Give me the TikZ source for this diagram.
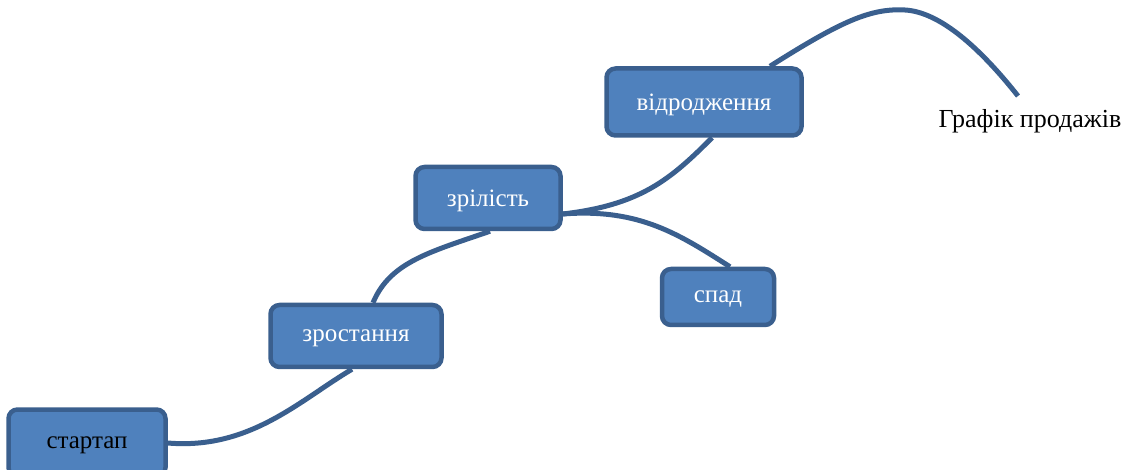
\documentclass[tikz,border=0pt]{standalone}
\usepackage{fontspec}
\setmainfont{Liberation Serif}
\definecolor{boxfill}{HTML}{4F81BD}
\definecolor{boxline}{HTML}{3A5F8E}
\tikzset{
  stage/.style={draw=boxline, fill=boxfill, line width=4.5pt, rounded corners=9pt,
    inner sep=0pt, font=\fontsize{25}{28}\selectfont, text=white, text depth=0pt},
  link/.style={draw=boxline, line width=5pt}
}
\begin{document}
\begin{tikzpicture}[x=1pt,y=-1pt]
\useasboundingbox (0,0) rectangle (1133,470);
\begin{scope}
\clip (0,0) rectangle (1133,470);
\node[stage, minimum width=157pt, minimum height=67pt, text=black] (start) at (87,443) {стартап};
\end{scope}
\node[stage, minimum width=171pt, minimum height=62pt] (grow) at (356,336) {зростання};
\node[stage, minimum width=145pt, minimum height=62pt] (mature) at (488,198) {зрілість};
\node[stage, minimum width=195pt, minimum height=67pt] (reborn) at (704,102) {відродження};
\node[stage, minimum width=112pt, minimum height=56pt] (fall) at (718,297) {спад};
\node[font=\fontsize{26}{29}\selectfont] (label) at (1030,121) {Графік продажів};
\coordinate (peakend) at (1018,96);
\draw[link] (start.east) .. controls (250,450) and (300,400) .. ([xshift=-4pt]grow.south);
\draw[link] ([xshift=17pt]grow.north) .. controls (390,262) and (430,252) .. ([xshift=2pt]mature.south);
\draw[link] ([yshift=-16pt]mature.east) .. controls (640,205) and (670,180) .. ([xshift=8pt]reborn.south);
\draw[link] ([yshift=-16pt]mature.east) .. controls (640,208) and (680,235) .. ([xshift=12pt]fall.north);
\draw[link] ([xshift=66pt]reborn.north) .. controls (840,22) and (870,8) .. (905,10)
  .. controls (940,12) and (980,48) .. (peakend);
\end{tikzpicture}
\end{document}
